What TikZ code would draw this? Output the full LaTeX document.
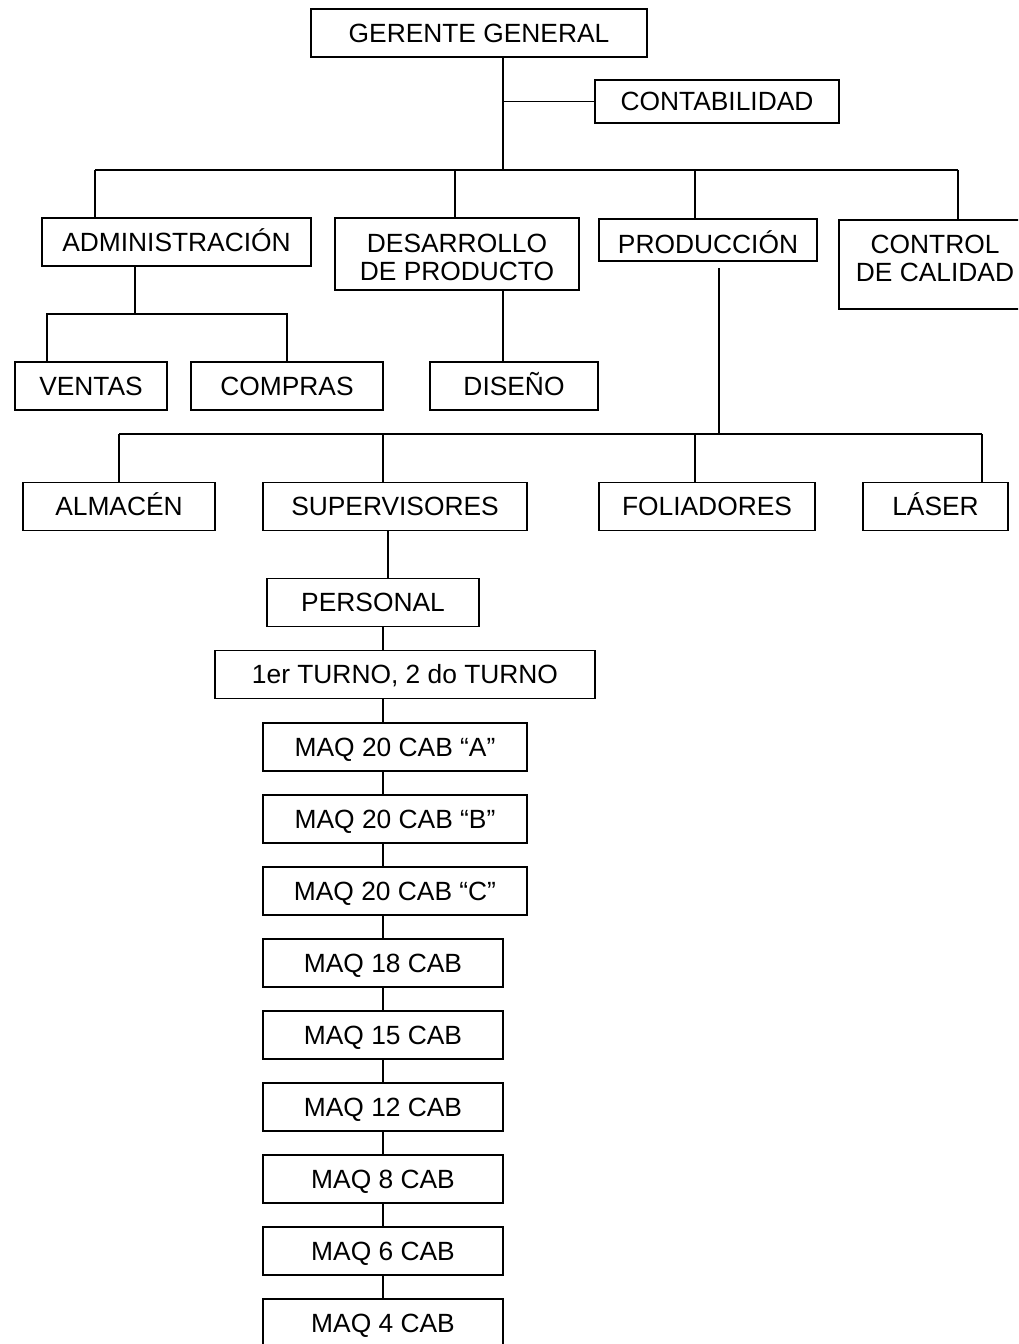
\documentclass[tikz,border=0pt]{standalone}
\usepackage{fontspec}
\setmainfont{Liberation Sans}
\usetikzlibrary{positioning,calc}
\tikzset{
  unit/.style={draw=black, line width=1.1pt, fill=white, inner sep=2pt,
    minimum height=0.96cm, text height=10.8pt, text depth=0pt,
    font=\fontsize{15}{16}\selectfont},
  unittwo/.style={draw=black, line width=1.1pt, fill=white, inner sep=2pt,
    align=center, font=\fontsize{15}{16}\selectfont},
  maq/.style={unit, minimum width=4.8cm},
  link/.style={line width=0.85pt, color=black},
}

\begin{document}
\begin{tikzpicture}[x=0.02cm,y=-0.02cm]
  \clip (0,0) rectangle (1018,1344);
  % top
  \node[unit, minimum width=6.72cm] (gerente) at (479,33) {GERENTE GENERAL};
  \node[unit, minimum width=4.88cm, minimum height=0.86cm] (conta) at (717,101.5) {CONTABILIDAD};
  % departments
  \node[unit, minimum width=5.38cm] (admin) at (176.5,242) {ADMINISTRACIÓN};
  \node[unittwo, minimum width=4.88cm, minimum height=1.44cm, text height=30pt] (desarrollo) at (457,254) {DESARROLLO\\DE PRODUCTO};
  \node[unit, minimum width=4.36cm, minimum height=0.84cm, text height=15pt] (produccion) at (708,240) {PRODUCCIÓN};
  \node[unittwo, anchor=north, minimum width=3.84cm, inner ysep=8.5pt, text depth=7pt] (control) at (935,219) {CONTROL\\DE CALIDAD};
  \node[unit, minimum width=3.04cm] (ventas) at (91,386) {VENTAS};
  \node[unit, minimum width=3.84cm] (compras) at (287,386) {COMPRAS};
  \node[unit, minimum width=3.36cm] (diseno) at (514,386) {DISEÑO};
  % production
  \node[unit, minimum width=3.84cm] (almacen) at (119,506.5) {ALMACÉN};
  \node[unit, minimum width=5.28cm] (sup) at (395,506.5) {SUPERVISORES};
  \node[unit, minimum width=4.32cm] (foliadores) at (707,506.5) {FOLIADORES};
  \node[unit, minimum width=2.9cm] (laser) at (935.5,506.5) {LÁSER};
  \node[unit, minimum width=4.24cm] (personal) at (373,602.5) {PERSONAL};
  \node[unit, minimum width=7.6cm] (turno) at (405,674.5) {1er TURNO, 2 do TURNO};
  \foreach \n/\t/\y in {mA/A/747, mB/B/819, mC/C/891}
    \node[unit, minimum width=5.28cm] (\n) at (395,\y) {MAQ 20 CAB “\t”};
  \foreach \n/\k/\y in {m18/18/963, m15/15/1035, m12/12/1107, m8/8/1179, m6/6/1251, m4/4/1323}
    \node[maq] (\n) at (383,\y) {MAQ \k\ CAB};

  \coordinate (hub) at (503,170);
  \coordinate (dA) at (95,170);
  \coordinate (dD) at (455,170);
  \coordinate (dP) at (695,170);
  \coordinate (dC) at (958,170);
  \coordinate (aS) at (135,314);
  \coordinate (vL) at (47,314);
  \coordinate (vR) at (287,314);
  \coordinate (bus) at (719,434);
  \coordinate (pA) at (119,434);
  \coordinate (pS) at (383,434);
  \coordinate (pF) at (695,434);
  \coordinate (pL) at (982,434);

  \draw[link] (gerente.south -| hub) -- (hub);
  \draw[link] (conta.west -| hub) -- (conta.west);
  \draw[link] (dA) -- (dC);
  \foreach \d/\n in {dA/admin, dD/desarrollo, dP/produccion, dC/control}
    \draw[link] (\d) -- (\d |- \n.north);
  \draw[link] (admin.south -| aS) -- (aS);
  \draw[link] (vL |- ventas.north) -- (vL) -- (vR) -- (vR |- compras.north);
  \draw[link] (desarrollo.south -| hub) -- (diseno.north -| hub);
  \draw[link, shorten <=0.12cm] (produccion.south -| bus) -- (bus);
  \draw[link] (pA) -- (pL);
  \foreach \d/\n in {pA/almacen, pS/sup, pF/foliadores, pL/laser}
    \draw[link] (\d) -- (\d |- \n.north);
  \draw[link] ([xshift=-0.14cm]sup.south) -- ([xshift=-0.14cm]sup.south |- personal.north);
  \foreach \a/\b in {personal/turno, turno/mA, mA/mB, mB/mC, mC/m18, m18/m15, m15/m12, m12/m8, m8/m6, m6/m4}
    \draw[link] (\a.south -| pS) -- (\b.north -| pS);
\end{tikzpicture}
\end{document}
